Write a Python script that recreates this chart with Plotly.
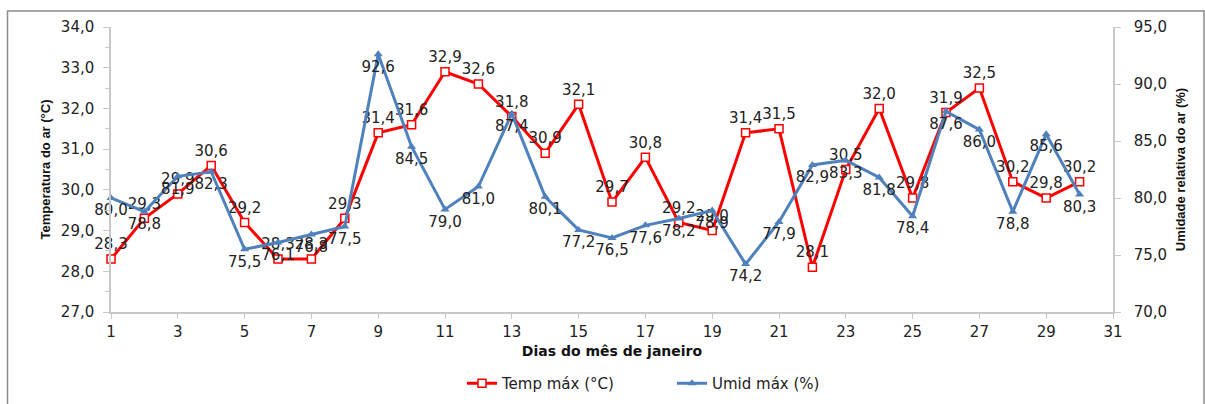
import plotly.graph_objects as go

days = list(range(1, 31))
temp_max = [28.3, 29.3, 29.9, 30.6, 29.2, 28.3, 28.3, 29.3, 31.4, 31.6,
            32.9, 32.6, 31.8, 30.9, 32.1, 29.7, 30.8, 29.2, 29.0, 31.4,
            31.5, 28.1, 30.5, 32.0, 29.8, 31.9, 32.5, 30.2, 29.8, 30.2]
umid_max = [80.0, 78.8, 81.9, 82.3, 75.5, 76.1, 76.8, 77.5, 92.6, 84.5,
            79.0, 81.0, 87.4, 80.1, 77.2, 76.5, 77.6, 78.2, 78.9, 74.2,
            77.9, 82.9, 83.3, 81.8, 78.4, 87.6, 86.0, 78.8, 85.6, 80.3]
x_ticks = list(range(1, 32, 2))

def fmt(v):
    return f"{v:.1f}".replace(".", ",")

RED = "#FF0000"
BLUE = "#4F81BD"
AXIS = "#C8C8C8"
LABEL_FONT = dict(family="DejaVu Sans", size=15, color="#222222")
TICK_FONT = dict(family="DejaVu Sans", size=15, color="#222222")
TITLE_FONT = dict(family="Liberation Sans Narrow, Liberation Sans", size=13, color="#111111")

fig = go.Figure()
fig.add_trace(go.Scatter(
    x=days, y=temp_max, name="Temp máx (°C)", mode="lines+markers+text",
    line=dict(color=RED, width=3),
    marker=dict(symbol="square", size=8, color="white", line=dict(width=1.5, color=RED)),
    text=[fmt(v) for v in temp_max], textposition="top center",
    textfont=LABEL_FONT, yaxis="y", cliponaxis=False,
))
fig.add_trace(go.Scatter(
    x=days, y=umid_max, name="Umid máx (%)", mode="lines+markers+text",
    line=dict(color=BLUE, width=3),
    marker=dict(symbol="triangle-up", size=8, color=BLUE),
    text=[fmt(v) for v in umid_max], textposition="bottom center",
    textfont=LABEL_FONT, yaxis="y2", cliponaxis=False,
))

fig.update_layout(
    width=1205, height=404,
    margin=dict(l=111, r=92, t=27, b=92),
    paper_bgcolor="white", plot_bgcolor="white",
    separators=",.",
    showlegend=True,
    legend=dict(orientation="h", xref="container", yref="container",
                x=462 / 1205, xanchor="left",
                y=1 - 367 / 404, yanchor="top",
                font=dict(family="DejaVu Sans", size=15, color="#222222"),
                entrywidth=165, traceorder="normal", bgcolor="rgba(0,0,0,0)"),
    xaxis=dict(
        range=[1, 31], tickvals=x_ticks, ticktext=[str(t) for t in x_ticks],
        showgrid=False, zeroline=False, showline=True, linecolor=AXIS, linewidth=1.5,
        ticks="outside", ticklen=5, tickcolor=AXIS, automargin=False,
        tickfont=TICK_FONT,
        title=dict(text="<b>Dias do mês de janeiro</b>", standoff=6,
                   font=dict(family="DejaVu Sans", size=14, color="#111111")),
    ),
    yaxis=dict(
        range=[27, 34], dtick=1, tickformat=".1f",
        showgrid=False, zeroline=False, showline=True, linecolor=AXIS, linewidth=1.5,
        ticks="outside", ticklen=6, tickcolor=AXIS, automargin=False,
        minor=dict(dtick=0.5, ticks="outside", ticklen=4, tickcolor=AXIS),
        tickfont=TICK_FONT, ticklabelstandoff=6,
        title=dict(text="<b>Temperatura do ar (°C)</b>", standoff=7, font=TITLE_FONT),
    ),
    yaxis2=dict(
        range=[70, 95], dtick=5, tickformat=".1f", overlaying="y", side="right",
        showgrid=False, zeroline=False, showline=True, linecolor=AXIS, linewidth=1.5,
        ticks="outside", ticklen=6, tickcolor=AXIS, automargin=False,
        tickfont=TICK_FONT, ticklabelstandoff=10,
        title=dict(text="<b>Umidade relativa do ar (%)</b>", standoff=10, font=TITLE_FONT),
    ),
)

fig.add_shape(type="rect", xref="paper", yref="paper",
              x0=(7.5 - 111) / 1002, x1=(1204 - 111) / 1002,
              y0=(312 - 420) / 285, y1=(312 - 11) / 285,
              line=dict(color="#8C8C8C", width=1.5), fillcolor="rgba(0,0,0,0)", layer="below")

fig.write_html("out.html", config={"displayModeBar": False},
               post_script="document.body.style.margin='0';document.body.style.overflow='hidden';")
